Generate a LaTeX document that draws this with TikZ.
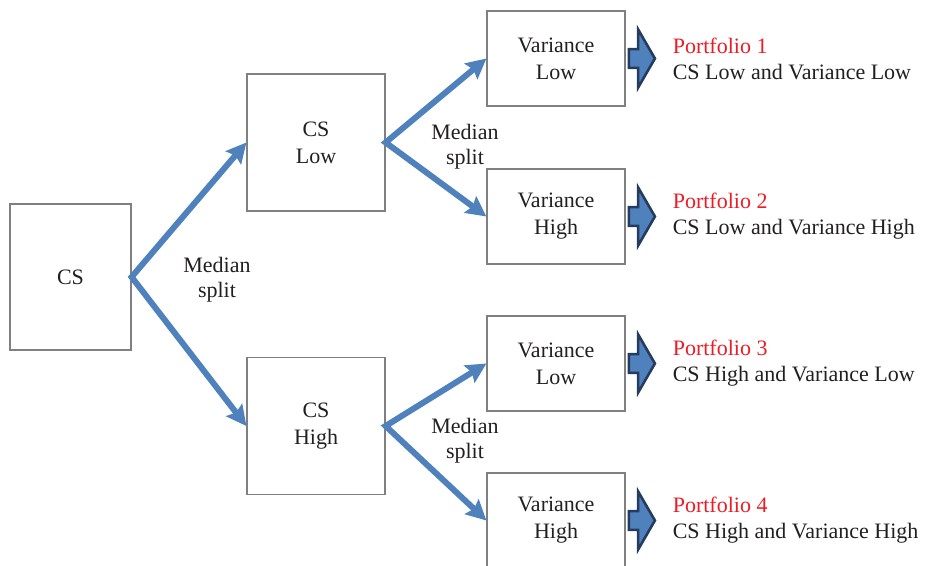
\documentclass[tikz,border=0pt]{standalone}
\usepackage{fontspec}
\setmainfont{Liberation Serif}
\newfontfamily\timesfont{Liberation Serif}
\usetikzlibrary{arrows.meta,shapes.arrows,positioning}
\definecolor{splitblue}{RGB}{79,129,189}
\definecolor{arrnavy}{RGB}{38,60,95}
\definecolor{pfred}{RGB}{237,28,36}
\definecolor{boxgray}{RGB}{128,128,128}
\definecolor{txtcol}{RGB}{35,31,32}
\tikzset{
	box/.style={draw=boxgray, line width=0.6pt, text=txtcol, align=center, font=\timesfont\fontsize{11}{13.5}\selectfont},
	csbox/.style={box, minimum width=60.5pt, minimum height=73pt},
	midbox/.style={box, minimum width=69pt, minimum height=68.5pt},
	varbox/.style={box, minimum width=69pt, minimum height=47.5pt},
	split/.style={draw=splitblue, line width=3pt, {Stealth[length=10pt,width=10pt,inset=1.5pt]}-{Stealth[length=10pt,width=10pt,inset=1.5pt]}},
	splitlabel/.style={text=txtcol, align=center, font=\timesfont\fontsize{11}{12.5}\selectfont, inner sep=0pt},
	blockarr/.style={single arrow, draw=arrnavy, fill=splitblue, line width=1.3pt, inner xsep=0pt, inner ysep=2.75pt, minimum height=13pt, minimum width=29pt, single arrow tip angle=120, anchor=tail},
	pftext/.style={text=txtcol, align=left, font=\timesfont\fontsize{11}{13}\selectfont, inner sep=0pt},
}
\begin{document}
\begin{tikzpicture}[x=0.5pt, y=-0.5pt]
		\useasboundingbox (0,0) rectangle (925,566);
		% boxes
		\node[csbox] (cs) at (70.5,277) {CS};
		\node[midbox] (cslow) at (316,142.5) {CS\\Low};
		\node[midbox] (cshigh) at (316,426) {CS\\High};
		\node[varbox] (vl1) at (556,58.5) {Variance\\Low};
		\node[varbox] (vh1) at (556,216.5) {Variance\\High};
		\node[varbox] (vl2) at (556,363.5) {Variance\\Low};
		\node[varbox] (vh2) at (556,520.5) {Variance\\High};
		% median splits
		\draw[split] (cslow.west) -- (cs.east) -- (cshigh.west);
		\draw[split] (vl1.west) -- (cslow.east) -- (vh1.west);
		\draw[split] (vl2.west) -- (cshigh.east) -- (vh2.west);
		\node[splitlabel] (m0) at (217,280) {Median\\split};
		\node[splitlabel] (m1) at (465,147) {Median\\split};
		\node[splitlabel] (m2) at (465,441) {Median\\split};
		% portfolios
		\foreach \v/\n/\a/\b in {vl1/1/Low/Low, vh1/2/Low/High, vl2/3/High/Low, vh2/4/High/High}{
			\node[blockarr] (arr\n) at ([xshift=1pt]\v.east) {};
			\node[pftext, right=8pt of arr\n.tip] (pf\n) {\textcolor{pfred}{Portfolio \n}\\CS \a{} and Variance \b};
		}
\end{tikzpicture}
\end{document}
